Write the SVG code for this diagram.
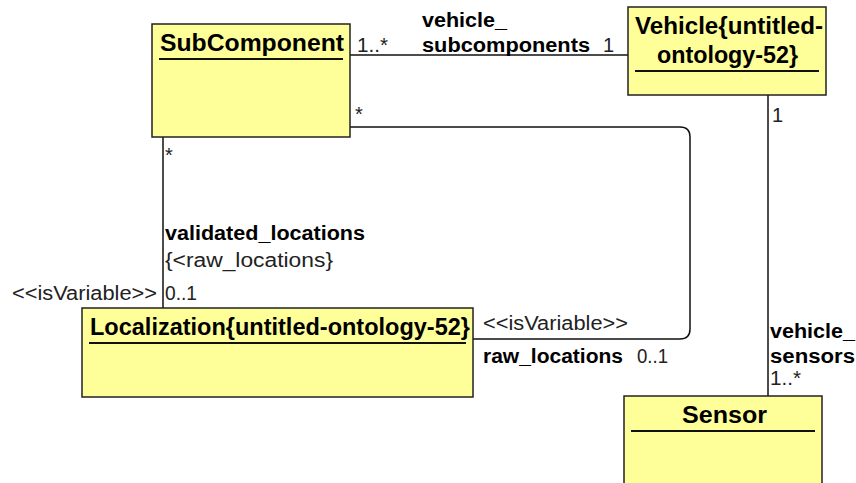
<svg xmlns="http://www.w3.org/2000/svg" width="856" height="483" viewBox="0 0 856 483">
<style>
.box{fill:#ffff99;stroke:#222;stroke-width:1.5}
.sep{stroke:#111;stroke-width:2}
.title{font-family:"Liberation Sans",Arial,sans-serif;font-size:23px;font-weight:bold;fill:#000}
.lb{font-family:"Liberation Sans",Arial,sans-serif;font-size:20px;font-weight:bold;fill:#000}
.ln{font-family:"Liberation Sans",Arial,sans-serif;font-size:20px;fill:#222}
.conn{fill:none;stroke:#111;stroke-width:1.5}
</style>
<rect width="856" height="483" fill="#fff"/>
<g id="connectors">
<path class="conn" d="M350,55 H628"/>
<path class="conn" d="M350,127 H680 Q690,127 690,137 V329 Q690,339 680,339 H473"/>
<path class="conn" d="M163,137 V308"/>
<path class="conn" d="M768,95 V396"/>
</g>
<g id="labels">
<text class="ln" x="357" y="52" textLength="31" lengthAdjust="spacingAndGlyphs">1..*</text>
<text class="lb" x="422" y="27" textLength="85" lengthAdjust="spacingAndGlyphs">vehicle_</text>
<text class="lb" x="422" y="52" textLength="168" lengthAdjust="spacingAndGlyphs">subcomponents</text>
<text class="ln" x="603" y="52">1</text>
<text class="ln" x="355" y="121">*</text>
<text class="ln" x="165" y="162">*</text>
<text class="ln" x="772" y="122">1</text>
<text class="lb" x="165" y="240" textLength="200" lengthAdjust="spacingAndGlyphs">validated_locations</text>
<text class="ln" x="165" y="267" textLength="168" lengthAdjust="spacingAndGlyphs">{&lt;raw_locations}</text>
<text class="ln" x="12" y="300" textLength="145" lengthAdjust="spacingAndGlyphs">&lt;&lt;isVariable&gt;&gt;</text>
<text class="ln" x="165" y="300" textLength="32" lengthAdjust="spacingAndGlyphs">0..1</text>
<text class="ln" x="483" y="330" textLength="145" lengthAdjust="spacingAndGlyphs">&lt;&lt;isVariable&gt;&gt;</text>
<text class="lb" x="483" y="363" textLength="140" lengthAdjust="spacingAndGlyphs">raw_locations</text>
<text class="ln" x="637" y="363" textLength="31" lengthAdjust="spacingAndGlyphs">0..1</text>
<text class="lb" x="770" y="338" textLength="85" lengthAdjust="spacingAndGlyphs">vehicle_</text>
<text class="lb" x="770" y="363" textLength="85" lengthAdjust="spacingAndGlyphs">sensors</text>
<text class="ln" x="770" y="385" textLength="31" lengthAdjust="spacingAndGlyphs">1..*</text>
</g>
<g id="SubComponent">
<rect class="box" x="152" y="24" width="198" height="113"/>
<text class="title" x="160" y="51" textLength="184" lengthAdjust="spacingAndGlyphs">SubComponent</text>
<line class="sep" x1="159" y1="59" x2="343" y2="59"/>
</g>
<g id="Vehicle">
<rect class="box" x="628" y="7" width="198" height="88"/>
<text class="title" x="635" y="34" textLength="188" lengthAdjust="spacingAndGlyphs">Vehicle{untitled-</text>
<text class="title" x="657" y="63" textLength="141" lengthAdjust="spacingAndGlyphs">ontology-52}</text>
<line class="sep" x1="635" y1="71" x2="819" y2="71"/>
</g>
<g id="Localization">
<rect class="box" x="82" y="308" width="391" height="89"/>
<text class="title" x="90" y="335" textLength="380" lengthAdjust="spacingAndGlyphs">Localization{untitled-ontology-52}</text>
<line class="sep" x1="89" y1="343" x2="466" y2="343"/>
</g>
<g id="Sensor">
<rect class="box" x="624" y="396" width="198" height="95"/>
<text class="title" x="682" y="423" textLength="85" lengthAdjust="spacingAndGlyphs">Sensor</text>
<line class="sep" x1="631" y1="431" x2="815" y2="431"/>
</g>
</svg>
